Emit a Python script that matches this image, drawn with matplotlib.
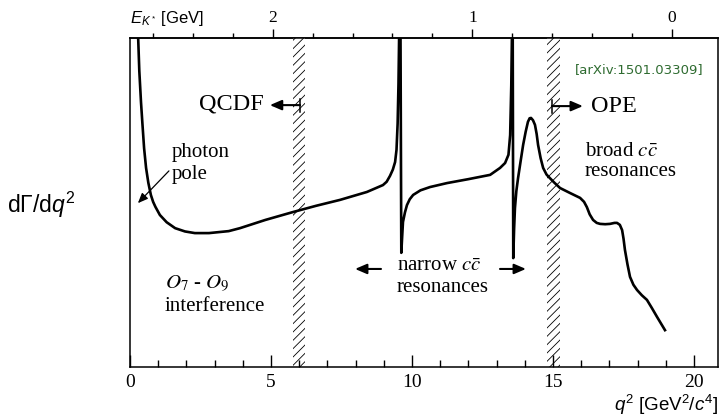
import numpy as np
import matplotlib.pyplot as plt

plt.rcParams['mathtext.fontset'] = 'custom'
plt.rcParams['mathtext.rm'] = 'Liberation Sans'
plt.rcParams['mathtext.it'] = 'Liberation Sans:italic'
plt.rcParams['mathtext.bf'] = 'Liberation Sans:bold'
plt.rcParams['hatch.linewidth'] = 0.6

# q^2 [GeV^2/c^4] and dGamma/dq^2 (arbitrary units)
q2 = [0.25, 0.28, 0.33, 0.39, 0.44, 0.5, 0.57, 0.65, 0.74, 0.82, 0.9, 1.06, 1.3, 1.6, 1.95, 2.3,
      2.8, 3.5, 3.9, 4.8, 5.78, 6.6, 7.45, 8.4, 8.97, 9.1, 9.22, 9.32, 9.4, 9.45, 9.49, 9.52,
      9.55, 9.59, 9.62, 9.65, 9.68, 9.75, 9.82, 9.92, 10.04, 10.3, 10.64, 11.24, 12.0, 12.77,
      13.12, 13.3, 13.42, 13.48, 13.52, 13.55,
      13.57, 13.59, 13.62, 13.65, 13.7, 13.76, 13.85, 13.94, 14.03, 14.11, 14.17, 14.22,
      14.29, 14.36, 14.42, 14.47, 14.56, 14.65, 14.77, 14.89, 15.05, 15.25, 15.6,
      15.96, 16.1, 16.2, 16.3, 16.42, 16.55, 16.67, 16.85, 17.02, 17.18, 17.27, 17.37,
      17.45, 17.5, 17.55, 17.64, 17.73, 17.85, 17.98, 18.15, 18.33, 18.5, 18.69, 18.97]
dgamma = [11.0, 10.24, 9.0, 8.05, 7.4, 6.65, 6.05, 5.6, 5.23, 5.02, 4.87, 4.62, 4.4, 4.22, 4.12,
          4.07, 4.07, 4.13, 4.22, 4.47, 4.71, 4.9, 5.08, 5.32, 5.53, 5.63, 5.81, 6.0, 6.23, 6.6,
          7.4, 8.6, 10.5, 10.5, 3.47, 3.95, 4.41, 4.7, 4.92, 5.1, 5.23, 5.37, 5.47, 5.59, 5.71,
          5.84,
          6.05, 6.2, 6.45, 7.05, 8.57, 10.5,
          10.5, 3.31, 4.2, 4.83, 5.35, 5.74, 6.25, 6.75, 7.15, 7.45, 7.56, 7.57,
          7.5, 7.36, 7.08, 6.75, 6.35, 6.05, 5.85, 5.74, 5.6, 5.44, 5.29,
          5.14, 5.02, 4.86, 4.64, 4.47, 4.38, 4.35, 4.34, 4.35, 4.38, 4.38, 4.32,
          4.16, 3.9, 3.56, 3.12, 2.74, 2.5, 2.34, 2.18, 2.04, 1.8, 1.52, 1.12]

# hatched transition regions
band_lo = [5.78, 14.79]
band_hi = [6.21, 15.25]

# top axis: E_K* [GeV]
e_major = [0, 1, 2]
e_minor = [0.2, 0.4, 0.6, 0.8, 1.2, 1.4, 1.6, 1.8, 2.2, 2.4, 2.6]
x_major = [0, 5, 10, 15, 20]

fig = plt.figure(figsize=(7.2, 4.16), dpi=100)
ax = fig.add_axes([130/720, 49/416, 588/720, 329/416])

for lo, hi in zip(band_lo, band_hi):
    ax.axvspan(lo, hi, facecolor='white', edgecolor='black', hatch='////', linewidth=0, zorder=1)

ax.plot(q2, dgamma, 'k-', linewidth=1.9, solid_joinstyle='round', zorder=3)

ax.set_xlim(0, 20.85)
ax.set_ylim(0, 10)
ax.set_yticks([])
ax.set_xticks(x_major)
ax.set_xticks(np.arange(0, 21, 1), minor=True)
ax.tick_params(axis='x', which='major', direction='in', length=8.5, width=1, pad=5,
               top=False, labelsize=14)
ax.tick_params(axis='x', which='minor', direction='in', length=5, width=1, top=False)
for lab in ax.get_xticklabels():
    lab.set_fontfamily('Liberation Serif')
for sp in ax.spines.values():
    sp.set_linewidth(1.1)

sec = ax.secondary_xaxis('top', functions=(lambda q: (19.22 - q) / 7.08,
                                           lambda e: 19.22 - 7.08 * e))
sec.set_xticks(e_major)
sec.set_xticks(e_minor, minor=True)
sec.tick_params(which='major', direction='out', length=6.5, width=1, pad=2, labelsize=12.5)
sec.tick_params(which='minor', direction='out', length=3.5, width=1)
for lab in sec.get_xticklabels():
    lab.set_fontfamily('Liberation Serif')
sec.spines['top'].set_linewidth(1.1)

serif = dict(fontfamily='Liberation Serif', math_fontfamily='stix', color='black')
arrow = dict(arrowstyle='-|>,head_length=0.7,head_width=0.3', color='black', lw=1.5,
             shrinkA=0, shrinkB=0)

ax.text(4.75, 8.0, 'QCDF', ha='right', va='center', fontsize=17.5, **serif)
ax.annotate('', xy=(4.96, 7.96), xytext=(6.03, 7.96), arrowprops=arrow)
ax.plot([6.03, 6.03], [7.76, 8.16], 'k-', lw=1.1)

ax.text(16.35, 7.93, 'OPE', ha='left', va='center', fontsize=17.5, **serif)
ax.annotate('', xy=(16.06, 7.93), xytext=(14.96, 7.93), arrowprops=arrow)
ax.plot([14.96, 14.96], [7.73, 8.13], 'k-', lw=1.1)

ax.text(20.35, 9.04, '[arXiv:1501.03309]', ha='right', va='center', fontsize=9.5,
        fontfamily='DejaVu Sans', color='#2e6b30')

ax.text(16.13, 6.55, r'broad $c\bar{c}$', ha='left', va='center', fontsize=15, **serif)
ax.text(16.13, 5.93, 'resonances', ha='left', va='center', fontsize=15, **serif)

ax.text(1.49, 6.53, 'photon', ha='left', va='center', fontsize=15, **serif)
ax.text(1.49, 5.84, 'pole', ha='left', va='center', fontsize=15, **serif)
ax.annotate('', xy=(0.28, 4.98), xytext=(1.38, 5.96),
            arrowprops=dict(arrowstyle='-|>,head_length=0.6,head_width=0.25', color='black',
                            lw=0.9, shrinkA=0, shrinkB=0))

ax.text(9.47, 3.04, r'narrow $c\bar{c}$', ha='left', va='center', fontsize=15, **serif)
ax.text(9.47, 2.43, 'resonances', ha='left', va='center', fontsize=15, **serif)
ax.annotate('', xy=(7.98, 2.98), xytext=(8.9, 2.98), arrowprops=arrow)
ax.annotate('', xy=(14.04, 2.98), xytext=(13.12, 2.98), arrowprops=arrow)

ax.text(1.24, 2.55, r'$O_7$ - $O_9$', ha='left', va='center', fontsize=15, **serif)
ax.text(1.24, 1.85, 'interference', ha='left', va='center', fontsize=15, **serif)

sans = dict(fontfamily='Liberation Sans', math_fontfamily='custom')
ax.text(1.0, -0.1155, r'$q^2$ [GeV$^2$/$c^4$]', transform=ax.transAxes, ha='right',
        va='center', fontsize=13.5, **sans)
fig.text(7/720, 1 - 205/416, r'd$\Gamma$/d$q^2$', ha='left', va='center', fontsize=16.5, **sans)
fig.text(130/720, 1 - 19/416, r'$E_{K^*}$ [GeV]', ha='left', va='center', fontsize=12, **sans)

fig.savefig('out.png', dpi=100)
